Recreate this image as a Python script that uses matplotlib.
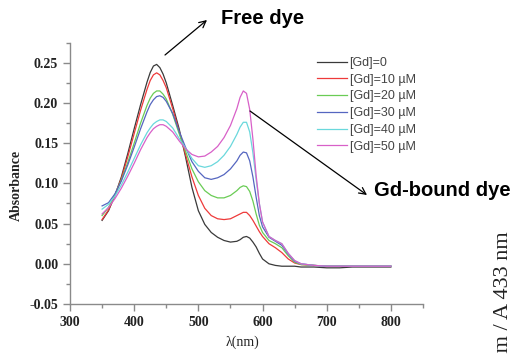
import numpy as np
import matplotlib
matplotlib.use('Agg')
import matplotlib.pyplot as plt
from matplotlib.ticker import MultipleLocator, FormatStrFormatter

# wavelength grid (nm)
wl = [350, 360, 370, 380, 390, 400, 410, 420, 425, 430, 435, 440, 445, 450,
      460, 470, 480, 490, 500, 510, 520, 530, 540, 550, 560, 565, 570, 575,
      580, 585, 590, 595, 600, 610, 620, 630, 640, 650, 660, 680, 700, 720,
      740, 760, 780, 800]

gd_0 = [.054, .066, .085, .108, .137, .168, .198, .226, .238, .246, .248, .244, .236, .225,
        .197, .168, .133, .095, .066, .049, .039, .033, .029, .027, .028, .030, .033, .034,
        .032, .027, .021, .013, .006, .000, -.002, -.003, -.003, -.003, -.004, -.004, -.005, -.005,
        -.004, -.004, -.004, -.004]
gd_10 = [.055, .067, .085, .106, .133, .162, .191, .217, .228, .235, .2375, .235, .228, .219,
         .193, .165, .136, .108, .085, .069, .060, .056, .055, .056, .060, .062, .064, .064,
         .060, .054, .047, .040, .034, .025, .020, .014, .006, .001, -.001, -.002, -.003, -.003,
         -.003, -.003, -.003, -.003]
gd_20 = [.060, .070, .086, .104, .126, .150, .175, .197, .206, .212, .215, .215, .211, .205,
         .186, .162, .140, .118, .102, .091, .085, .082, .082, .085, .091, .095, .097, .096,
         .090, .078, .062, .048, .039, .029, .025, .020, .010, .002, -.001, -.002, -.003, -.003,
         -.003, -.003, -.003, -.003]
gd_30 = [.072, .076, .087, .103, .123, .145, .168, .189, .198, .204, .208, .209, .207, .202,
         .187, .165, .145, .127, .115, .107, .105, .107, .111, .118, .128, .135, .139, .138,
         .128, .108, .083, .060, .046, .033, .028, .023, .012, .003, .000, -.002, -.003, -.003,
         -.003, -.003, -.003, -.003]
gd_40 = [.068, .074, .084, .098, .114, .131, .148, .163, .169, .174, .177, .179, .179, .177,
         .169, .156, .144, .131, .122, .120, .122, .127, .135, .146, .161, .170, .176, .176,
         .164, .138, .105, .075, .052, .034, .029, .025, .013, .004, .000, -.002, -.003, -.003,
         -.003, -.003, -.003, -.003]
gd_50 = [.062, .070, .081, .094, .109, .125, .142, .157, .163, .168, .171, .173, .173, .171,
         .164, .153, .143, .136, .133, .134, .139, .146, .157, .172, .193, .207, .215, .212,
         .192, .155, .110, .075, .052, .034, .029, .025, .013, .004, .000, -.002, -.003, -.003,
         -.003, -.003, -.003, -.003]

labels = ['[Gd]=0', '[Gd]=10 \u00b5M', '[Gd]=20 \u00b5M', '[Gd]=30 \u00b5M',
          '[Gd]=40 \u00b5M', '[Gd]=50 \u00b5M']
colors = ['#3a3a3a', '#ee3a3a', '#6acc55', '#5566c0', '#6ad8dc', '#d860c8']

W, H = 513, 354

def fpx(x, y):
    # top-left pixel -> figure fraction
    return x / W, 1 - y / H

fig = plt.figure(figsize=(W / 100, H / 100), dpi=100)
ax = fig.add_axes([70 / W, 1 - 304 / H, (423 - 70) / W, (304 - 42.7) / H])

for ys, lab, c in zip([gd_0, gd_10, gd_20, gd_30, gd_40, gd_50], labels, colors):
    ax.plot(wl, ys, color=c, lw=0.9, label=lab)

ax.set_xlim(300, 850)
ax.set_ylim(-0.05, 0.275)
ax.xaxis.set_major_locator(MultipleLocator(100))
ax.xaxis.set_minor_locator(MultipleLocator(50))
ax.yaxis.set_major_locator(MultipleLocator(0.05))
ax.yaxis.set_minor_locator(MultipleLocator(0.025))
ax.yaxis.set_major_formatter(FormatStrFormatter('%.2f'))
ax.set_xticks([300, 400, 500, 600, 700, 800])

for s in ['top', 'right']:
    ax.spines[s].set_visible(False)
for s in ['left', 'bottom']:
    ax.spines[s].set_color('#8a8a8a')
    ax.spines[s].set_linewidth(1.0)
ax.tick_params(which='major', length=5, color='#8a8a8a', width=1, direction='out')
ax.tick_params(which='minor', length=3, color='#8a8a8a', width=1, direction='out')
for t in ax.get_xticklabels() + ax.get_yticklabels():
    t.set_family('Liberation Serif')
    t.set_weight('bold')
    t.set_fontsize(10)
    t.set_color('#222222')

fig.text(*fpx(16.7, 185), 'Absorbance', rotation=90, ha='center', va='center',
         family='Liberation Serif', weight='bold', fontsize=10, color='#222222')
fig.text(*fpx(243, 342), '\u03bb(nm)', ha='center', va='center',
         family='Liberation Serif', fontsize=10, color='#222222')

leg = fig.legend(loc='upper left', bbox_to_anchor=fpx(317, 57), frameon=False,
                 prop={'family': 'Liberation Sans', 'size': 9},
                 handlelength=2.4, handletextpad=0.2, labelspacing=0.38,
                 borderpad=0, borderaxespad=0)
for t in leg.get_texts():
    t.set_color('#444444')

bold = dict(family='Liberation Sans', weight='bold', fontsize=14.5, color='black')
fig.text(*fpx(221, 18), 'Free dye', ha='left', va='center', **bold)
fig.text(*fpx(374, 190), 'Gd-bound dye', ha='left', va='center', **bold)
arr = dict(arrowstyle='->', lw=0.9, color='black', shrinkA=0, shrinkB=0,
           mutation_scale=12)
ax.annotate('', xy=fpx(207, 20), xytext=fpx(165, 55),
            xycoords='figure fraction', textcoords='figure fraction', arrowprops=arr)
ax.annotate('', xy=fpx(367, 195), xytext=fpx(250, 111),
            xycoords='figure fraction', textcoords='figure fraction', arrowprops=arr)

# label of the neighbouring panel, cut by the lower edge as in the source
fig.text(*fpx(503, 231), 'A 570 nm / A 433 nm', rotation=90, ha='center', va='top',
         family='Liberation Serif', fontsize=16, color='#222222')

fig.savefig('out.png', dpi=100)
